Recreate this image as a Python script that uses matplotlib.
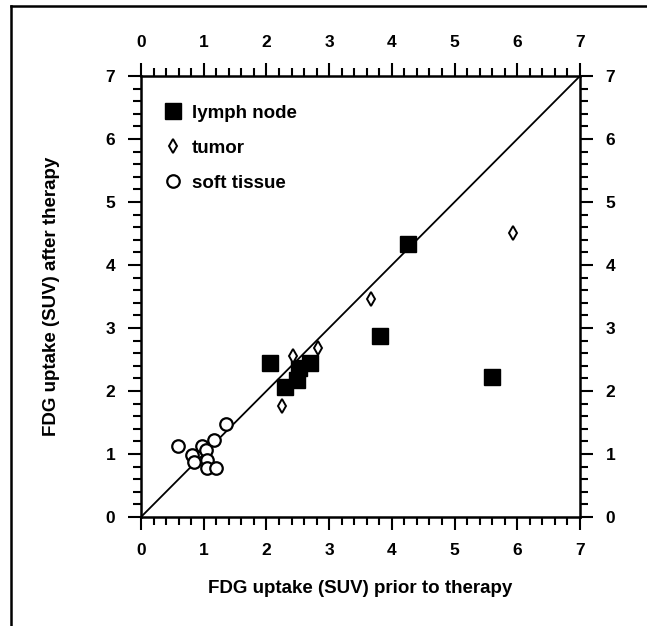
import matplotlib
matplotlib.use("Agg")
import matplotlib.pyplot as plt
from matplotlib.lines import Line2D

plt.rcParams['font.family'] = ['Liberation Sans', 'DejaVu Sans']
plt.rcParams['font.weight'] = 'bold'

# Data (SUV before, SUV after)
lymph_x = [2.05, 2.30, 2.48, 2.52, 2.70, 3.81, 4.25, 5.59]
lymph_y = [2.45, 2.07, 2.17, 2.37, 2.44, 2.87, 4.34, 2.23]

tumor_x = [2.25, 2.42, 2.82, 3.66, 5.93]
tumor_y = [1.76, 2.56, 2.69, 3.46, 4.51]

soft_x = [0.59, 0.81, 0.85, 0.97, 1.04, 1.05, 1.05, 1.16, 1.20, 1.36]
soft_y = [1.12, 0.98, 0.88, 1.13, 1.07, 0.90, 0.77, 1.22, 0.77, 1.47]

ticks = [0, 1, 2, 3, 4, 5, 6, 7]
xlabel = "FDG uptake (SUV) prior to therapy"
ylabel = "FDG uptake (SUV) after therapy"

fig = plt.figure(figsize=(6.47, 6.26), dpi=100)
ax = fig.add_axes([141/647, 1-517/626, 439/647, 441/626])

ax.plot([0, 7], [0, 7], color='black', lw=1.3, zorder=1)

ax.plot(lymph_x, lymph_y, 's', ms=11, mfc='black', mec='black', mew=1,
        ls='none', zorder=3, label='lymph node')
ax.plot(tumor_x, tumor_y, 'd', ms=7.5, mfc='white', mec='black', mew=1.4,
        ls='none', zorder=3, label='tumor')
ax.plot(soft_x, soft_y, 'o', ms=9, mfc='white', mec='black', mew=1.6,
        ls='none', zorder=2, label='soft tissue')

ax.set_xlim(0, 7)
ax.set_ylim(0, 7)
ax.set_xticks(ticks)
ax.set_yticks(ticks)
ax.set_xticks([i / 5 for i in range(36)], minor=True)
ax.set_yticks([i / 5 for i in range(36)], minor=True)
ax.set_xticklabels([str(t) for t in ticks])
ax.set_yticklabels([str(t) for t in ticks])

for s in ax.spines.values():
    s.set_linewidth(1.8)

ax.tick_params(which='both', direction='out', top=True, right=True,
               labeltop=True, labelright=True, width=1.5)
ax.tick_params(which='major', length=9.5, pad=9, labelsize=12.5)
ax.tick_params(which='minor', length=5.5)
for lab in ax.get_xticklabels() + ax.get_yticklabels():
    lab.set_fontweight('bold')

ax.set_xlabel(xlabel, fontsize=13.5, fontweight='bold', labelpad=16)
ax.set_ylabel(ylabel, fontsize=13.5, fontweight='bold', labelpad=33)

leg = ax.legend(loc='upper left', bbox_to_anchor=(0.02, 0.96), frameon=False,
                numpoints=1, handlelength=1.3, handletextpad=0.35,
                labelspacing=0.95, prop={'weight': 'bold', 'size': 13.5},
                borderaxespad=0.2)

# Outer frame of the figure panel (left and top edges)
fig.add_artist(Line2D([11/647, 11/647], [0, 1-6/626], color='black', lw=1.8,
                      transform=fig.transFigure))
fig.add_artist(Line2D([11/647, 1], [1-6/626, 1-6/626], color='black', lw=1.8,
                      transform=fig.transFigure))

fig.savefig('out.png', dpi=100)
